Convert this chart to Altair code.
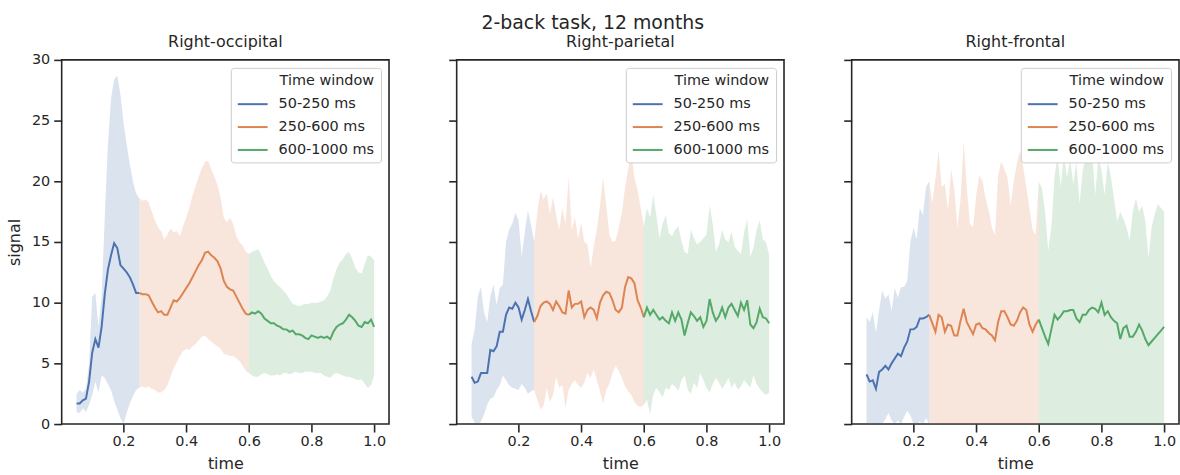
import altair as alt
import pandas as pd

# ---------------- data ----------------
TIME = [0.05, 0.06, 0.07, 0.08, 0.09, 0.10, 0.11, 0.12, 0.13, 0.14,
        0.15, 0.16, 0.17, 0.18, 0.19, 0.20, 0.21, 0.22, 0.23, 0.24,
        0.25, 0.26, 0.27, 0.28, 0.29, 0.30, 0.31, 0.32, 0.33, 0.34,
        0.35, 0.36, 0.37, 0.38, 0.39, 0.40, 0.41, 0.42, 0.43, 0.44,
        0.45, 0.46, 0.47, 0.48, 0.49, 0.50, 0.51, 0.52, 0.53, 0.54,
        0.55, 0.56, 0.57, 0.58, 0.59, 0.60, 0.61, 0.62, 0.63, 0.64,
        0.65, 0.66, 0.67, 0.68, 0.69, 0.70, 0.71, 0.72, 0.73, 0.74,
        0.75, 0.76, 0.77, 0.78, 0.79, 0.80, 0.81, 0.82, 0.83, 0.84,
        0.85, 0.86, 0.87, 0.88, 0.89, 0.90, 0.91, 0.92, 0.93, 0.94,
        0.95, 0.96, 0.97, 0.98, 0.99, 1.00]

PANELS = ["Right-occipital", "Right-parietal", "Right-frontal"]
WINDOWS = ["50-250 ms", "250-600 ms", "600-1000 ms"]
WINDOW_BOUNDS = [(0.05, 0.25), (0.25, 0.60), (0.60, 1.00)]
COLORS = ["#4c72b0", "#dd8452", "#55a868"]

RO_MEAN = [1.7, 1.7, 1.95, 2.1, 3.5, 5.9, 7.0, 6.3, 8.0, 10.7,
           12.7, 13.9, 14.9, 14.5, 13.1, 12.8, 12.5, 12.1, 11.5, 10.8,
           10.8,
           10.7, 10.7, 10.6, 10.1, 9.6, 9.2, 9.3, 9.0, 9.0, 9.6,
           10.2, 10.1, 10.4, 10.8, 11.2, 11.6, 12.1, 12.6, 13.1, 13.5,
           14.1, 14.2, 13.9, 13.7, 13.4, 12.8, 11.8, 11.3, 11.1, 11.0,
           10.5, 10.0, 9.5, 9.1, 9.0,
           9.2, 9.1, 9.3, 9.1, 8.7, 8.5, 8.3, 8.3, 8.1, 8.0,
           7.8, 7.8, 7.6, 7.7, 7.4, 7.4, 7.3, 7.1, 7.0, 7.3,
           7.2, 7.1, 7.2, 7.1, 7.2, 7.0, 7.6, 8.0, 8.2, 8.3,
           8.6, 9.0, 8.8, 8.5, 8.1, 8.0, 8.4, 8.3, 8.6, 8.0]
RO_LOW = [1.0, 0.9, 1.3, 1.0, 1.6, 2.4, 3.5, 2.6, 4.0, 3.8,
          3.3, 2.8, 1.9, 1.2, 0.5, 0.0, 0.9, 1.7, 2.3, 2.8,
          3.0,
          3.1, 3.0, 3.1, 2.9, 2.8, 2.6, 2.6, 2.8, 3.2, 3.9,
          4.6, 5.1, 5.6, 6.0, 6.2, 6.1, 6.4, 6.6, 6.9, 7.2,
          7.3, 7.0, 6.8, 6.6, 6.4, 6.2, 5.8, 5.7, 5.6, 5.6,
          5.4, 5.2, 4.8, 4.4, 4.2,
          4.0, 3.9, 3.9, 4.1, 4.2, 4.1, 4.0, 4.0, 4.1, 4.0,
          4.2, 4.2, 4.1, 4.2, 4.3, 4.2, 4.2, 4.3, 4.3, 4.3,
          4.2, 4.2, 4.2, 4.0, 3.9, 3.8, 4.1, 4.2, 4.1, 4.0,
          3.9, 3.9, 3.8, 3.7, 3.6, 3.7, 3.3, 3.0, 3.2, 4.0]
RO_HIGH = [2.5, 2.8, 2.6, 2.9, 5.0, 10.5, 10.8, 8.0, 10.5, 17.0,
           23.0, 26.8, 28.4, 28.7, 27.2, 24.8, 23.0, 21.4, 20.0, 19.0,
           18.6,
           18.4, 18.5, 18.3, 17.5, 16.8, 16.2, 15.9, 15.2, 15.6, 16.1,
           15.8, 15.9, 15.5, 16.3, 17.0, 17.8, 18.8, 19.6, 20.4, 21.1,
           21.6, 21.7, 21.0, 20.4, 19.7, 18.6, 17.0, 16.6, 17.0, 16.5,
           15.5, 15.0, 14.7, 14.2, 14.0,
           14.2, 14.3, 14.4, 13.9, 13.3, 12.8, 12.2, 11.8, 11.5, 11.3,
           11.0, 10.7, 10.3, 9.9, 9.8, 9.7, 9.8, 9.9, 9.9, 10.0,
           10.0, 10.0, 10.1, 10.2, 10.5, 11.0, 12.0, 12.8, 13.3, 13.6,
           14.0, 14.2, 13.6, 12.9, 12.5, 12.4, 13.2, 13.9, 13.8, 13.5]

RP_MEAN = [3.9, 3.4, 3.5, 4.2, 4.2, 4.2, 6.1, 6.0, 6.4, 7.6,
           7.6, 9.0, 9.6, 9.5, 10.0, 9.6, 8.6, 9.4, 10.3, 9.3,
           8.4,
           8.9, 9.7, 10.0, 10.1, 9.9, 9.4, 10.1, 9.7, 9.2, 9.1,
           11.0, 9.6, 9.9, 9.9, 10.1, 8.8, 9.4, 9.6, 9.4, 8.7,
           10.0, 10.6, 10.9, 10.8, 10.2, 9.4, 9.2, 9.6, 11.3, 12.1,
           12.0, 11.6, 10.2, 9.6, 8.8,
           9.6, 9.0, 9.4, 9.0, 8.6, 8.8, 8.5, 8.3, 9.2, 8.5,
           9.2, 8.6, 7.3, 8.3, 9.2, 8.9, 8.5, 8.8, 8.0, 8.5,
           10.3, 9.2, 8.5, 8.9, 9.6, 8.8, 9.6, 9.9, 9.4, 8.9,
           10.0, 9.4, 10.2, 8.2, 7.9, 8.4, 9.5, 8.8, 8.7, 8.3]
RP_LOW = [0.6, 0.1, 0.0, 0.2, 0.8, 1.6, 2.1, 2.2, 2.8, 3.2,
          4.0, 3.6, 3.2, 3.0, 2.9, 2.8, 3.3, 3.0, 2.5, 2.7,
          2.8,
          2.0, 1.2, 1.5, 3.0, 1.8, 2.4, 3.9, 3.0, 3.2, 1.3,
          2.8, 3.3, 3.6, 3.2, 3.0, 3.4, 4.2, 3.8, 4.5, 3.6,
          2.7, 1.7, 2.8, 3.3, 4.2, 4.8, 4.4, 3.8, 3.1, 2.7,
          2.4, 1.8, 1.5, 1.4, 1.6,
          2.0, 0.8, 2.4, 3.0, 2.6, 2.2, 3.0, 2.8, 3.3, 3.1,
          2.7, 3.6, 4.0, 2.8, 2.5, 3.4, 3.0, 4.2, 3.6, 3.0,
          2.6, 3.3, 3.8, 3.4, 2.9, 3.3, 3.8, 3.0, 3.4, 2.8,
          3.1, 3.6, 3.3, 3.0, 4.0, 3.3, 2.9, 2.6, 2.4, 2.6]
RP_HIGH = [6.6, 7.8, 10.5, 11.3, 9.2, 8.4, 10.5, 11.5, 9.8, 11.2,
           11.5, 15.0, 16.0, 16.5, 17.4, 16.8, 13.8, 15.8, 17.6, 16.4,
           15.0,
           17.5, 19.2, 18.5, 19.0, 17.3, 18.7, 17.2, 16.0, 17.8, 16.5,
           20.4, 16.0, 17.0, 15.3, 16.6, 15.0, 14.8, 12.9, 14.6, 16.0,
           18.0, 20.3, 18.0, 15.6, 15.0, 15.1, 16.2, 17.5, 19.5, 21.0,
           22.5, 20.3, 19.3, 17.8, 16.3,
           17.8, 17.0, 18.9, 17.2, 15.3, 16.5, 17.2, 15.7, 15.5, 16.0,
           16.3, 15.1, 14.2, 14.0, 16.0, 15.3, 14.8, 15.0, 15.3, 15.6,
           18.0, 16.5, 14.2, 14.8, 16.0, 15.2, 15.0, 15.8, 14.6, 14.3,
           14.0, 15.8, 16.9, 13.8, 14.5, 16.0, 16.8, 15.2, 15.0, 13.9]

RF_MEAN = [4.1, 3.5, 3.6, 2.9, 4.3, 4.5, 4.8, 4.5, 5.0, 5.4,
           5.8, 5.6, 6.3, 6.8, 7.8, 7.8, 8.0, 8.7, 8.7, 8.8,
           9.0,
           8.3, 7.6, 9.0, 8.8, 7.6, 8.2, 8.1, 7.3, 7.3, 8.5,
           9.5, 8.4, 7.9, 7.4, 8.2, 8.3, 7.9, 7.8, 7.5, 7.3,
           6.9, 8.4, 9.3, 9.3, 8.8, 8.2, 8.1, 8.5, 9.2, 9.6,
           9.4, 8.2, 7.6, 8.2, 8.6,
           7.9, 7.2, 6.6, 7.8, 9.0, 8.6, 8.9, 9.3, 9.3, 9.4,
           9.4, 8.7, 8.4, 9.0, 9.0, 9.4, 9.6, 9.5, 9.2, 10.0,
           9.0, 9.3, 8.8, 8.5, 8.3, 7.0, 7.9, 8.1, 7.2, 7.2,
           7.6, 8.2, 7.7, 7.0, 6.5, 6.8, 7.1, 7.4, 7.7, 8.0]
RF_LOW = [0.0, 0.0, 0.0, 0.0, 0.0, 0.0, 0.4, 0.9, 0.3, 0.0,
          0.3, 0.0, 0.6, 1.1, 0.7, 0.0, 0.0, 0.2, 0.0, 0.5,
          0.0,
          0.0, 0.0, 0.0, 0.0, 0.0, 0.0, 0.0, 0.0, 0.0, 0.0,
          0.0, 0.0, 0.0, 0.0, 0.0, 0.0, 0.0, 0.0, 0.0, 0.0,
          0.0, 0.0, 0.0, 0.0, 0.0, 0.0, 0.0, 0.0, 0.0, 0.0,
          0.0, 0.0, 0.0, 0.0, 0.0,
          0.0, 0.0, 0.0, 0.0, 0.0, 0.0, 0.0, 0.0, 0.0, 0.0,
          0.0, 0.0, 0.0, 0.0, 0.0, 0.0, 0.0, 0.0, 0.0, 0.0,
          0.0, 0.0, 0.0, 0.0, 0.0, 0.0, 0.0, 0.0, 0.0, 0.0,
          0.0, 0.0, 0.0, 0.0, 0.0, 0.0, 0.0, 0.0, 0.0, 0.0]
RF_HIGH = [8.8, 8.4, 9.2, 7.5, 9.4, 11.0, 10.3, 10.7, 9.3, 11.2,
           10.4, 11.3, 11.3, 11.8, 15.0, 16.2, 15.2, 17.8, 17.2, 19.5,
           20.0,
           18.2, 20.2, 22.5, 19.5, 19.8, 17.6, 21.0, 19.4, 16.2, 18.5,
           23.3, 19.5, 16.5, 16.2, 18.8, 20.5, 20.0, 18.6, 17.6, 16.2,
           15.6, 20.5, 21.6, 21.0, 20.3, 18.0, 20.0, 21.5, 22.5, 21.2,
           19.5, 17.8, 16.0, 15.6, 20.0,
           19.4, 17.5, 14.3, 16.2, 20.4, 22.1, 19.5, 22.3, 20.3, 21.8,
           19.8, 21.6, 18.1, 20.9, 22.0, 21.6, 22.5, 18.9, 22.0, 20.9,
           18.9, 21.6, 20.4, 18.6, 16.7, 17.5, 16.9, 16.2, 15.1, 17.5,
           18.6, 17.5, 18.0, 16.7, 13.7, 16.2, 17.3, 18.1, 17.8, 17.5]

SERIES = {
    "Right-occipital": (RO_MEAN, RO_LOW, RO_HIGH),
    "Right-parietal": (RP_MEAN, RP_LOW, RP_HIGH),
    "Right-frontal": (RF_MEAN, RF_LOW, RF_HIGH),
}

# ---------------- table ----------------
rows = []
for panel in PANELS:
    mean, low, high = SERIES[panel]
    for i, t in enumerate(TIME):
        for w, (a, b) in zip(WINDOWS, WINDOW_BOUNDS):
            if a - 1e-9 <= t <= b + 1e-9:
                rows.append({"panel": panel, "window": w, "time": t,
                             "signal": mean[i], "low": low[i], "high": high[i]})
df = pd.DataFrame(rows)

TXT = "#262626"
FS_TICK = 14.5
FS_LEG = 14.5
FS_LAB = 16

color_scale = alt.Scale(domain=WINDOWS, range=COLORS)
x_scale = alt.Scale(domain=[0.0025, 1.0475], nice=False, zero=False)
y_scale = alt.Scale(domain=[0, 30], nice=False, zero=False)


def make_panel(panel, first):
    d = df[df["panel"] == panel]
    x_enc = alt.X("time:Q", scale=x_scale,
                  axis=alt.Axis(values=[0.2, 0.4, 0.6, 0.8, 1.0], format=".1f",
                                title="time", grid=False, domain=False,
                                tickSize=8, tickWidth=1.6, tickColor=TXT,
                                labelFontSize=FS_TICK, labelColor=TXT,
                                labelPadding=3, titleFontSize=FS_LAB,
                                titleColor=TXT, titleFontWeight="normal",
                                titlePadding=7))
    if first:
        y_axis = alt.Axis(values=[0, 5, 10, 15, 20, 25, 30], title="signal",
                          grid=False, domain=False, tickSize=8, tickWidth=1.6,
                          tickColor=TXT, labelFontSize=FS_TICK, labelColor=TXT,
                          labelPadding=4, titleFontSize=FS_LAB, titleColor=TXT,
                          titleFontWeight="normal", titlePadding=9)
    else:
        y_axis = alt.Axis(values=[0, 5, 10, 15, 20, 25, 30], title=None,
                          labels=False, grid=False, domain=False, tickSize=8,
                          tickWidth=1.6, tickColor=TXT)
    band = alt.Chart(d).mark_area(opacity=0.2, clip=True).encode(
        x=x_enc,
        y=alt.Y("low:Q", scale=y_scale, axis=y_axis),
        y2="high:Q",
        fill=alt.Fill("window:N", scale=color_scale, legend=None),
    )
    line = alt.Chart(d).mark_line(strokeWidth=2, clip=True).encode(
        x=x_enc,
        y=alt.Y("signal:Q", scale=y_scale),
        color=alt.Color(
            "window:N", scale=color_scale,
            legend=alt.Legend(
                title="Time window", orient="top-right", offset=8,
                symbolType="stroke", symbolStrokeWidth=2, symbolSize=900,
                labelOffset=10, fillColor="white", strokeColor="#cccccc",
                cornerRadius=3, padding=6, rowPadding=-3, titleAnchor="end",
                titleFontWeight="normal", titleFontSize=FS_LEG,
                labelFontSize=FS_LEG, titleColor=TXT, labelColor=TXT,
                titlePadding=0, symbolOpacity=1,
            ),
        ),
    )
    return alt.layer(band, line).resolve_scale(fill="independent").properties(
        width=329, height=366,
        title=alt.TitleParams(panel, fontSize=FS_LAB, fontWeight="normal",
                              color=TXT, offset=9, dy=7 if first else 0),
    )


chart = alt.hconcat(
    *[make_panel(p, i == 0) for i, p in enumerate(PANELS)], spacing=57
).resolve_legend(color="independent").resolve_scale(
    fill="independent"
).properties(
    title=alt.TitleParams("2-back task, 12 months", fontSize=19,
                          fontWeight="normal", color=TXT, anchor="middle",
                          offset=0),
    padding={"left": 5, "right": 0, "top": 13, "bottom": 0},
).configure(font="DejaVu Sans").configure_view(
    stroke=TXT, strokeWidth=1.6
)

chart.save("out.html", embed_options={"renderer": "svg", "actions": False})
